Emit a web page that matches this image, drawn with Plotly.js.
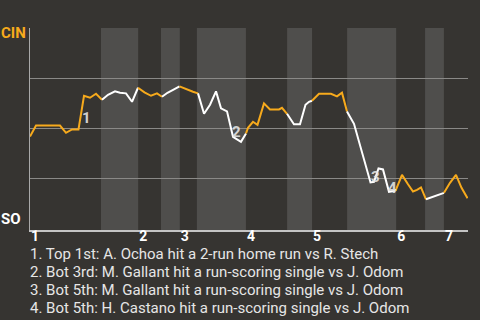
<!DOCTYPE html>
<html>
<head>
<meta charset="utf-8">
<script src="https://cdn.plot.ly/plotly-3.0.1.min.js"></script>
<style>
  html, body { margin: 0; padding: 0; background: #363431; }
  #chart { width: 480px; height: 320px; }
</style>
</head>
<body>
<div id="chart"></div>
<script>
// Game progress (0-100) for each win-probability update
const progress = [
  0, 1.37, 6.85, 8.22, 9.59, 11.07, 12.33, 13.70, 15.07, 16.44,
  17.81, 19.41, 20.55, 21.92, 23.29, 24.66,
  26.14, 27.63, 28.99, 30.14,
  31.39, 32.88, 34.13,
  35.84, 37.21, 38.36,
  39.73, 41.10, 42.47, 43.61, 44.98, 46.35, 47.03, 48.17, 49.32,
  49.77, 50.91, 51.94, 53.42, 54.79, 56.85, 57.53, 58.68,
  59.82, 60.27, 61.64, 62.90, 63.70, 64.38,
  65.98, 68.72, 70.09, 71.23, 71.92, 72.37,
  73.97, 77.74, 78.54, 79.57, 80.59, 81.96, 83.45,
  84.93, 86.30, 87.44, 88.36, 89.27, 90.41,
  92.01, 94.52,
  95.89, 97.26, 98.52, 99.89
];

// Cincinnati win probability after each update
const cinWinProb = [
  0.458, 0.513, 0.513, 0.477, 0.494, 0.494, 0.662, 0.652, 0.672, 0.642,
  0.667, 0.684, 0.677, 0.674, 0.632, 0.702,
  0.679, 0.662, 0.674, 0.657,
  0.677, 0.694, 0.709,
  0.692, 0.682, 0.674,
  0.572, 0.617, 0.684, 0.599, 0.584, 0.457, 0.449, 0.432, 0.474,
  0.502, 0.532, 0.517, 0.624, 0.594, 0.594, 0.602, 0.572,
  0.537, 0.520, 0.520, 0.617, 0.632, 0.637,
  0.672, 0.672, 0.659, 0.677, 0.617, 0.583,
  0.522, 0.229, 0.232, 0.299, 0.294, 0.182, 0.187,
  0.267, 0.220, 0.184, 0.192, 0.204, 0.145,
  0.157, 0.177,
  0.227, 0.267, 0.202, 0.150
];

// Half-inning in which each update happened (1 = top 1st, 2 = bottom 1st, ...)
const halfInning = [
  1, 1, 1, 1, 1, 1, 1, 1, 1, 1,
  2, 2, 2, 2, 2, 2,
  3, 3, 3, 3,
  4, 4, 4,
  5, 5, 5,
  6, 6, 6, 6, 6, 6, 6, 6, 6,
  7, 7, 7, 7, 7, 7, 7, 7,
  8, 8, 8, 8, 8, 8,
  9, 9, 9, 9, 9, 9,
  10, 10, 10, 10, 10, 10, 10,
  11, 11, 11, 11, 11, 11,
  12, 12,
  13, 13, 13, 13
];

// Where each half-inning starts and ends on the progress scale
const halfBounds = [0, 16.2, 24.7, 29.9, 34.2, 38.1, 49.3, 58.7, 64.4, 72.4, 83.6, 90.2, 94.5, 100];

const inningLabels = ['1', '2', '3', '4', '5', '6', '7'];

// Scoring plays: index of the update they are marked at, and their description
const eventPoint = [5, 33, 56, 60];
const eventText = [
  '1. Top 1st: A. Ochoa hit a 2-run home run vs R. Stech',
  '2. Bot 3rd: M. Gallant hit a run-scoring single vs J. Odom',
  '3. Bot 5th: M. Gallant hit a run-scoring single vs J. Odom',
  '4. Bot 5th: H. Castano hit a run-scoring single vs J. Odom'
];

const ORANGE = '#f7aa1c';
const WHITE = '#ffffff';
const FONT = 'Roboto, "Noto Sans", sans-serif';

// One trace per half-inning; each segment starts at the last update of the previous half
const traces = [];
let start = 0;
for (let i = 1; i <= progress.length; i++) {
  if (i === progress.length || halfInning[i] !== halfInning[i - 1]) {
    const h = halfInning[i - 1];
    const from = start === 0 ? 0 : start - 1;
    traces.push({
      x: progress.slice(from, i),
      y: cinWinProb.slice(from, i),
      type: 'scatter',
      mode: 'lines',
      line: { color: h % 2 === 1 ? ORANGE : WHITE, width: 2 },
      hoverinfo: 'skip',
      showlegend: false
    });
    start = i;
  }
}

// Shade the bottom halves of each inning
const shapes = [];
for (let h = 1; h < halfBounds.length - 1; h += 2) {
  shapes.push({
    type: 'rect', xref: 'x', yref: 'paper',
    x0: halfBounds[h], x1: halfBounds[h + 1], y0: 0, y1: 1,
    fillcolor: '#4f4e4c', line: { width: 0 }, layer: 'below'
  });
}

const inningStarts = [];
for (let h = 0; h < halfBounds.length - 1; h += 2) inningStarts.push(halfBounds[h]);

const annotations = [
  { xref: 'paper', yref: 'paper', x: 0, y: 1, xanchor: 'right', yanchor: 'middle',
    xshift: -2, yshift: -5, text: '<b>CIN</b>', showarrow: false,
    font: { family: FONT, size: 15, color: ORANGE } },
  { xref: 'paper', yref: 'paper', x: 0, y: 0, xanchor: 'right', yanchor: 'middle',
    xshift: -7, yshift: 11, text: '<b>SO</b>', showarrow: false,
    font: { family: FONT, size: 15, color: WHITE } }
];

// Event numbers beside the plays on the line
const markShift = [[8, 11], [-4, 10], [5, 5], [4, 4]];
eventPoint.forEach((p, k) => {
  annotations.push({
    x: progress[p], y: cinWinProb[p], xref: 'x', yref: 'y',
    text: '<b>' + (k + 1) + '</b>', showarrow: false,
    xshift: markShift[k][0], yshift: markShift[k][1],
    font: { family: FONT, size: 15, color: 'rgba(230,230,230,0.9)' }
  });
});

// Event descriptions under the chart
eventText.forEach((t, k) => {
  annotations.push({
    xref: 'paper', yref: 'paper', x: 0, y: 0, xanchor: 'left', yanchor: 'middle',
    xshift: -2, yshift: -23.5 - k * 18, text: t, showarrow: false,
    font: { family: FONT, size: 15, color: '#e6e6e6' }
  });
});

const layout = {
  width: 480, height: 320,
  paper_bgcolor: '#363431', plot_bgcolor: '#363431',
  margin: { l: 30, r: 12, t: 28, b: 90 },
  xaxis: {
    range: [0, 100], showgrid: false, zeroline: false,
    showline: true, linecolor: '#c4c4c4', linewidth: 2,
    tickmode: 'array', tickvals: inningStarts, ticktext: inningLabels,
    ticks: '', ticklen: 0, ticklabelshift: 5, ticklabelstandoff: -8,
    tickfont: { family: FONT, size: 14, color: WHITE, weight: 'bold' },
    fixedrange: true
  },
  yaxis: {
    range: [-0.0085, 1.0005], showgrid: true, gridcolor: '#8a8987', gridwidth: 1,
    tickmode: 'array', tickvals: [0.25, 0.5, 0.75, 1], showticklabels: false,
    zeroline: false, showline: true, linecolor: '#a9a9a9', linewidth: 1,
    ticks: '', fixedrange: true
  },
  shapes: shapes,
  annotations: annotations
};

Plotly.newPlot('chart', traces, layout, { staticPlot: true, displayModeBar: false });
</script>
</body>
</html>
